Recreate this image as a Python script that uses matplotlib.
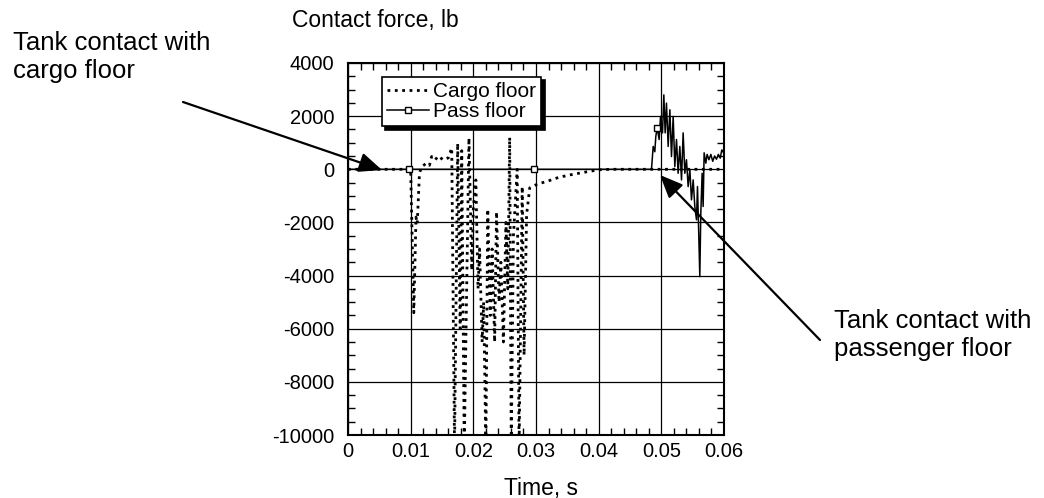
import numpy as np
import matplotlib
matplotlib.use("Agg")
import matplotlib.pyplot as plt
from matplotlib.ticker import MultipleLocator, FuncFormatter

plt.rcParams['font.family'] = ['Liberation Sans', 'DejaVu Sans']
plt.rcParams['axes.unicode_minus'] = False

# Cargo floor contact force (dotted), time in s, force in lb
cargo_t = [0.0, 0.0100, 0.01050, 0.01085, 0.01105, 0.01140, 0.01175, 0.01255,
           0.01300, 0.01335, 0.01390, 0.01440, 0.01520, 0.01600, 0.01655,
           0.01700, 0.01750, 0.01790, 0.01815, 0.01855, 0.01930, 0.01975,
           0.02000, 0.02040, 0.02075, 0.02100, 0.02140, 0.02165, 0.02200,
           0.02230, 0.02270, 0.02300, 0.02340, 0.02370, 0.02410, 0.02440,
           0.02480, 0.02520, 0.02550, 0.02580, 0.02605, 0.02640, 0.02700,
           0.02730, 0.02780, 0.02810, 0.02850, 0.02900, 0.03030, 0.03170,
           0.03330, 0.03500, 0.03750, 0.04000, 0.04200, 0.06000]
cargo_f = [0, 0, -5400, -1800, -2050, -150, 100, 230,
           150, 480, 350, 500, 350, 430, 800,
           -10500, 980, -6000, 700, -10500, 1180, -3800,
           -1500, -400, -4500, -3000, -6500, -5000, -10500,
           -1500, -5500, -3000, -6500, -1600, -5000, -3500,
           -6500, -2000, -4500, 1200, -10500, -2500, 0,
           -10500, -650, -7000, -1700, -700, -550, -460,
           -330, -230, -120, -20, 0, 0]

# Passenger floor contact force (solid with squares)
pass_t = [0.0, 0.0097, 0.0297, 0.04843, 0.04870, 0.04896, 0.04912, 0.04934,
          0.04965, 0.04987, 0.05019, 0.05040, 0.05061, 0.05082, 0.05109,
          0.05136, 0.05162, 0.05189, 0.05215, 0.05242, 0.05268, 0.05295,
          0.05322, 0.05348, 0.05375, 0.05401, 0.05428, 0.05455, 0.05481,
          0.05508, 0.05534, 0.05561, 0.05577, 0.05598, 0.05614, 0.05630,
          0.05651, 0.05667, 0.05683, 0.05710, 0.05731, 0.05760, 0.05790,
          0.05820, 0.05850, 0.05880, 0.05910, 0.05940, 0.05965, 0.06000]
pass_f = [0, 0, 0, 0, 860, 660, 1240, 1560,
          1120, 1990, 1370, 2800, 1370, 2490, 860,
          2240, 480, 1990, 100, 1120, -150, 860,
          -400, 1370, -150, 360, -650, 0, -1150,
          -400, -1400, -1900, -650, -2530, -4040, -1650,
          -150, -1400, 620, 230, 560, 360, 560,
          300, 500, 380, 560, 420, 730, 600]
pass_marker_t = [0.0097, 0.0297, 0.04934]

W, H = 1044, 498
fig = plt.figure(figsize=(W / 100, H / 100), dpi=100)
ax = fig.add_axes([348 / W, 1 - 435 / H, 376 / W, 372 / H])

ax.plot(cargo_t, cargo_f, color='k', ls=':', lw=2.0, label='Cargo floor')
marks = [pass_t.index(t) for t in pass_marker_t]
ax.plot(pass_t, pass_f, color='k', lw=1.1, marker='s', ms=5, mfc='white',
        mec='k', mew=1, markevery=marks, label='Pass floor')

ax.set_xlim(0, 0.06)
ax.set_ylim(-10000, 4000)
ax.xaxis.set_major_locator(MultipleLocator(0.01))
ax.xaxis.set_minor_locator(MultipleLocator(0.002))
ax.yaxis.set_major_locator(MultipleLocator(2000))
ax.yaxis.set_minor_locator(MultipleLocator(500))
ax.xaxis.set_major_formatter(FuncFormatter(lambda v, p: '{:g}'.format(round(v, 4))))
ax.yaxis.set_major_formatter(FuncFormatter(lambda v, p: '{:d}'.format(int(round(v)))))
ax.grid(True, which='major', color='k', lw=0.9)
ax.tick_params(which='both', direction='in', top=True, right=True, labelsize=14.5)
ax.tick_params(which='major', length=0)
ax.tick_params(which='minor', length=5, width=1)
ax.tick_params(axis='x', pad=5)
ax.tick_params(axis='y', pad=10)
for s in ax.spines.values():
    s.set_linewidth(1.5)

leg = ax.legend(loc='upper left', bbox_to_anchor=(0.09, 0.963), borderaxespad=0,
                fontsize=15, frameon=True, fancybox=False, edgecolor='k',
                framealpha=1, handlelength=2.0, handletextpad=0.2,
                labelspacing=0.05, borderpad=0.25,
                shadow={'ox': 2.5, 'oy': -2.5, 'color': 'k', 'alpha': 1})
leg.get_frame().set_linewidth(1.2)

fig.text(292 / W, 1 - 27 / H, 'Contact force, lb', fontsize=16.5, va='baseline', ha='left')
fig.text(541 / W, 1 - 495 / H, 'Time, s', fontsize=16.5, va='baseline', ha='center')

fig.text(13 / W, 1 - 31 / H, 'Tank contact with\ncargo floor', fontsize=18.5,
         va='top', ha='left', linespacing=1.2)
fig.text(834 / W, 1 - 309 / H, 'Tank contact with\npassenger floor', fontsize=18.5,
         va='top', ha='left', linespacing=1.2)

arrow = dict(arrowstyle='-|>,head_length=0.7,head_width=0.3', mutation_scale=20,
             color='k', lw=1.6, shrinkA=0, shrinkB=0)
ax.annotate('', xy=(382, H - 170), xycoords='figure pixels',
            xytext=(183, H - 102), textcoords='figure pixels', arrowprops=arrow)
ax.annotate('', xy=(660, H - 175), xycoords='figure pixels',
            xytext=(820, H - 340), textcoords='figure pixels', arrowprops=arrow)

fig.savefig('out.png', dpi=100)
